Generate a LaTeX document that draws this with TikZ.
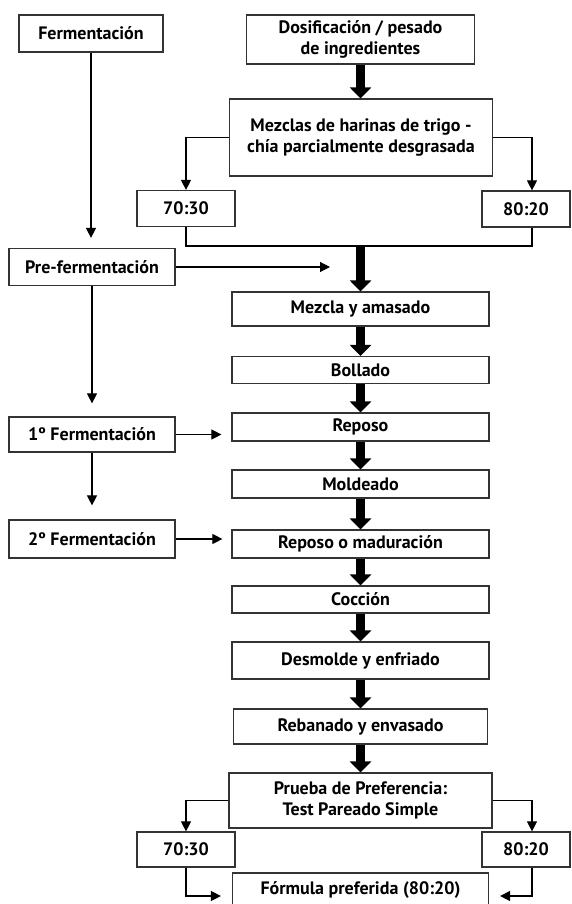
\documentclass[tikz,border=0pt]{standalone}
\usepackage{fontspec}
\setmainfont{PT Sans}
\usetikzlibrary{
arrows.meta,
calc,
positioning
}
\tikzset{
block_ratio/.style={block_normal, minimum width=98pt, minimum height=36pt}
}

\begin{document}
\begin{tikzpicture}
[x=1pt, y=-1pt,
block_normal/.style ={ rectangle, draw=black!80, line width=1.2pt, fill=white, align=center, inner sep=0pt, font=\fontsize{18}{21}\selectfont\bfseries},
block_main/.style ={ block_normal, minimum width=257pt, minimum height=28pt},
block_side/.style ={ block_normal, minimum width=166pt, minimum height=37pt},
line_plain/.style ={draw, line width=1.1pt},
line_inner/.style ={draw, line width=1.1pt, -{Triangle[width=10pt,length=10pt]}},
line_thick/.style ={draw, line width=9.5pt, -{Triangle[width=21pt,length=11pt]}}
]
\useasboundingbox (0,0) rectangle (571,904);

%%%Bloques izquierda%%%
\node [block_side, minimum width=144pt] (ferm) at (91,33.5) {Fermentación};
\node [block_side] (pre) at (92,267) {Pre-fermentación};
\node [block_side, minimum height=35pt] (ferm1) at (92,434.5) {1º Fermentación};
\node [block_side, minimum height=38pt] (ferm2) at (92,539) {2º Fermentación};

%%%Bloques centro%%%
\node [block_main, minimum width=228pt, minimum height=49pt] (dosif) at (360.5,39.5) {Dosificación / pesado\\de ingredientes};
\node [block_main, minimum width=263pt, minimum height=77pt] (mezclas) at (361,137.5) {Mezclas de harinas de trigo -\\chía parcialmente desgrasada};
\node [block_ratio] (r1) at (186,208.5) {70:30};
\node [block_ratio, minimum width=88pt] (r2) at (526,209) {80:20};
\coordinate (join) at (360.5,246);
\coordinate (preend) at (330,267);
\node [block_main, minimum height=34pt] (mezcla) at (360.5,309) {Mezcla y amasado};
\node [block_main, minimum height=27pt] (bollado) at (360.5,370) {Bollado};
\node [block_main] (reposo) at (360.5,427) {Reposo};
\node [block_main] (moldeado) at (360.5,484) {Moldeado};
\node [block_main] (repmad) at (360.5,544) {Reposo o maduración};
\node [block_main, minimum height=27pt] (coccion) at (360.5,599.5) {Cocción};
\node [block_main, minimum height=37pt] (desmolde) at (360.5,660.5) {Desmolde y enfriado};
\node [block_main, minimum width=254pt, minimum height=35pt] (rebanado) at (360.5,726.5) {Rebanado y envasado};
\node [block_main, minimum width=263pt, minimum height=55pt] (prueba) at (360.5,800.5) {Prueba de Preferencia:\\Test Pareado Simple};
\node [block_ratio, minimum height=35pt] (s1) at (186,849.5) {70:30};
\node [block_ratio, minimum width=88pt, minimum height=35pt] (s2) at (526,849.5) {80:20};
\node [block_main, minimum width=256pt, minimum height=34pt] (formula) at (360.5,890) {Fórmula preferida (80:20)};

%%%Flechas gruesas%%%
\draw[line_thick] (dosif.south) -- (dosif.south |- mezclas.north);
\draw[line_thick] (join) -- (join |- mezcla.north);
\draw[line_thick] (mezcla.south) -- (mezcla.south |- bollado.north);
\draw[line_thick] (bollado.south) -- (bollado.south |- reposo.north);
\draw[line_thick] (reposo.south) -- (reposo.south |- moldeado.north);
\draw[line_thick] (moldeado.south) -- (moldeado.south |- repmad.north);
\draw[line_thick] (repmad.south) -- (repmad.south |- coccion.north);
\draw[line_thick] (coccion.south) -- (coccion.south |- desmolde.north);
\draw[line_thick] (desmolde.south) -- (desmolde.south |- rebanado.north);
\draw[line_thick] (rebanado.south) -- (rebanado.south |- prueba.north);

%%%Flechas finas%%%
\draw[line_inner] (mezclas.west) -| (r1.north);
\draw[line_inner] (mezclas.east) -| ([xshift=6pt]r2.north);
\draw[line_plain] (r1.south) |- (join) -| ([xshift=6pt]r2.south);
\draw[line_inner, shorten >=10pt] (ferm.south) -- (ferm.south |- pre.north);
\draw[line_inner] (pre.east) -- (preend);
\draw[line_inner, shorten >=13pt] (pre.south) -- (ferm1.north);
\draw[line_inner, shorten >=14pt] (ferm1.south) -- (ferm2.north);
\draw[line_inner, shorten >=10pt] (ferm1.east) -- (ferm1.east -| reposo.west);
\draw[line_inner, shorten >=9pt] (ferm2.east) -- (ferm2.east -| repmad.west);
\draw[line_inner] (prueba.west) -| (s1.north);
\draw[line_inner] (prueba.east) -| ([xshift=6pt]s2.north);
\draw[line_inner, shorten >=11pt] (s1.south) |- ([yshift=-6pt]formula.west);
\draw[line_inner, shorten >=11pt] ([xshift=6pt]s2.south) |- ([yshift=-6pt]formula.east);

\end{tikzpicture}
\end{document}
